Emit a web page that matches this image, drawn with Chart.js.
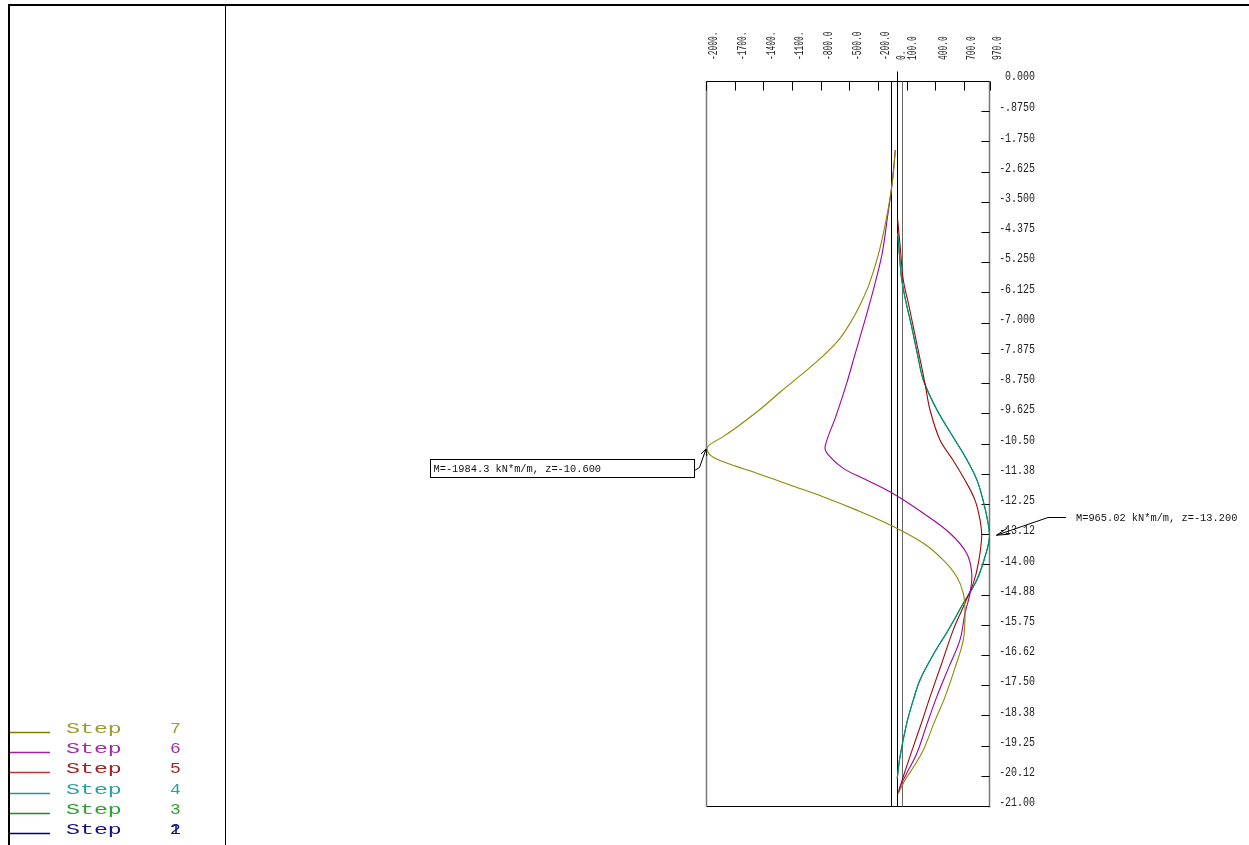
<!DOCTYPE html>
<html>
<head>
<meta charset="utf-8">
<script src="https://cdn.jsdelivr.net/npm/chart.js@4.4.1/dist/chart.umd.min.js"></script>
<style>
  html, body { margin: 0; padding: 0; background: #ffffff; }
  canvas { display: block; }
</style>
</head>
<body>
<canvas id="c" width="1249" height="845"></canvas>
<script>
// ---------- data (bending moment M [kN*m/m] versus depth z [m]) ----------
const step7Z = [-2.00, -2.50, -3.00, -3.50, -4.00, -4.50, -5.00, -5.50, -6.00, -6.50, -7.00, -7.50, -8.00, -8.50, -9.00, -9.50, -10.00, -10.30, -10.60, -10.83, -11.03, -11.36, -11.70, -12.04, -12.43, -12.86, -13.39, -13.88, -14.36, -14.84, -15.41, -16.19, -17.00, -17.84, -18.60, -19.38, -19.85, -20.25, -20.63];
const step7M = [-20, -35, -55, -82, -115, -152, -195, -248, -310, -392, -490, -612, -790, -1000, -1220, -1430, -1665, -1820, -1984.3, -1958, -1819, -1470, -1122, -776, -424, -76, 273, 482, 622, 691, 709, 691, 604, 500, 384, 273, 175, 81, 11];

const step6Z = [-2.00, -3.00, -4.00, -5.00, -6.00, -7.00, -8.00, -8.76, -9.70, -10.60, -10.83, -11.22, -11.55, -11.90, -12.52, -13.10, -13.68, -14.26, -14.84, -15.41, -16.19, -17.00, -17.84, -18.65, -19.48, -20.10, -20.44, -20.63];
const step6M = [-20, -55, -105, -158, -245, -345, -450, -529, -640, -755, -721, -564, -327, -76, 273, 552, 726, 779, 761, 709, 656, 536, 413, 308, 204, 90, 29, 11];

const step5Z = [-4.03, -4.90, -5.76, -6.45, -7.12, -7.95, -8.76, -9.53, -10.40, -10.98, -11.56, -12.14, -12.72, -13.20, -13.97, -14.55, -15.23, -15.90, -16.90, -17.84, -18.55, -19.28, -20.15, -20.63];
const step5M = [5, 34, 63, 117, 168, 230, 290, 343, 447, 583, 708, 813, 866, 883, 848, 795, 691, 586, 461, 343, 259, 168, 63, 11];

const step4Z = [-4.41, -5.10, -5.76, -6.45, -7.12, -7.90, -8.66, -9.53, -10.40, -10.98, -11.56, -12.14, -12.72, -13.20, -13.78, -14.46, -15.13, -15.90, -16.60, -17.35, -18.00, -18.61, -19.57, -20.20];
const step4M = [5, 25, 47, 95, 151, 210, 273, 416, 604, 730, 834, 897, 944, 965.02, 918, 831, 691, 534, 380, 238, 160, 99, 29, 0];

// Step 3 coincides with Step 4 in the picture; Steps 1-2 show no visible curve
const step3Z = step4Z.slice();
const step3M = step4M.slice();

const legendSteps = ['7', '6', '5', '4', '3', '2'];

const xTickValues = [-2000, -1700, -1400, -1100, -800, -500, -200, 0, 100, 400, 700, 970];
const xTickLabels = ['-2000.', '-1700.', '-1400.', '-1100.', '-800.0', '-500.0', '-200.0', '0.', '100.0', '400.0', '700.0', '970.0'];
const yTickValues = [0, -0.875, -1.75, -2.625, -3.5, -4.375, -5.25, -6.125, -7, -7.875, -8.75, -9.625, -10.5, -11.375, -12.25, -13.125, -14, -14.875, -15.75, -16.625, -17.5, -18.375, -19.25, -20.125, -21];
const yTickLabels = ['0.000', '-.8750', '-1.750', '-2.625', '-3.500', '-4.375', '-5.250', '-6.125', '-7.000', '-7.875', '-8.750', '-9.625', '-10.50', '-11.38', '-12.25', '-13.12', '-14.00', '-14.88', '-15.75', '-16.62', '-17.50', '-18.38', '-19.25', '-20.12', '-21.00'];

const wallFaces = [-62, 52];   // wall faces (M-axis positions of the wall outline)
const minLabel = { M: -1984.3, z: -10.6, text: 'M=-1984.3 kN*m/m, z=-10.600' };
const maxLabel = { M: 965.02, z: -13.2, text: 'M=965.02 kN*m/m, z=-13.200' };

// ---------- styles ----------
const curveColors = { s7: '#8a8a00', s6: '#a000a0', s5: '#a00808', s4: '#008f88', s3: '#008000' };
const legendLineColors = ['#808000', '#a020a0', '#b03838', '#209898', '#208a20', '#000080'];
const legendTextColors = ['#9c9c30', '#a030a0', '#a02424', '#2aa0a0', '#30a030', '#121280'];

function pts(zs, ms) { return zs.map((z, i) => ({ x: ms[i], y: z })); }
function ds(label, zs, ms, color) {
  return { label, data: pts(zs, ms), showLine: true, borderColor: color, backgroundColor: color,
           borderWidth: 1.1, pointRadius: 0, tension: 0.35, fill: false };
}

function textScaled(ctx, str, x, y, sx, align, base, rot) {
  ctx.save();
  ctx.translate(x, y);
  if (rot) ctx.rotate(rot);
  ctx.scale(sx, 1);
  ctx.textAlign = align;
  ctx.textBaseline = base;
  ctx.fillText(str, 0, 0);
  ctx.restore();
}

function arrowHead(ctx, tipX, tipY, fromX, fromY, len, spread) {
  const a = Math.atan2(fromY - tipY, fromX - tipX);
  ctx.beginPath();
  ctx.moveTo(tipX + len * Math.cos(a + spread), tipY + len * Math.sin(a + spread));
  ctx.lineTo(tipX, tipY);
  ctx.lineTo(tipX + len * Math.cos(a - spread), tipY + len * Math.sin(a - spread));
  ctx.stroke();
}

const decor = {
  id: 'decor',
  beforeDatasetsDraw(chart) {
    const ctx = chart.ctx, xs = chart.scales.x, ys = chart.scales.y, a = chart.chartArea;
    ctx.save();
    // outer page frame
    ctx.strokeStyle = '#000';
    ctx.lineWidth = 2;
    ctx.beginPath(); ctx.moveTo(8, 5); ctx.lineTo(1249, 5); ctx.stroke();
    ctx.beginPath(); ctx.moveTo(9, 5); ctx.lineTo(9, 845); ctx.stroke();
    ctx.lineWidth = 1;
    ctx.beginPath(); ctx.moveTo(225.5, 5); ctx.lineTo(225.5, 845); ctx.stroke();

    // plot frame
    const L = Math.round(a.left) + 0.5, R = Math.round(a.right) - 0.5, T = Math.round(a.top) + 0.5, B = Math.round(a.bottom) + 0.5;
    ctx.strokeStyle = '#000'; ctx.lineWidth = 1;
    ctx.beginPath(); ctx.moveTo(L, T); ctx.lineTo(R, T); ctx.stroke();
    ctx.beginPath(); ctx.moveTo(L, B); ctx.lineTo(R, B); ctx.stroke();
    ctx.strokeStyle = '#777'; ctx.lineWidth = 1.5;
    ctx.beginPath(); ctx.moveTo(L, T); ctx.lineTo(L, B); ctx.stroke();
    ctx.beginPath(); ctx.moveTo(R, T); ctx.lineTo(R, B + 1); ctx.stroke();

    // top ticks + labels
    ctx.lineWidth = 1;
    ctx.font = '12px "Liberation Mono", "DejaVu Sans Mono", monospace';
    ctx.fillStyle = '#222';
    xTickValues.forEach((v, i) => {
      const px = Math.round(xs.getPixelForValue(v)) + 0.5;
      ctx.strokeStyle = '#000';
      if (v === 0) {
        ctx.beginPath(); ctx.moveTo(px, T - 10); ctx.lineTo(px, B); ctx.stroke();
      } else {
        ctx.beginPath(); ctx.moveTo(px, T); ctx.lineTo(px, T + 9); ctx.stroke();
      }
      const off = v === 0 ? 5 : (v === 100 ? 6 : 8);
      textScaled(ctx, xTickLabels[i], xs.getPixelForValue(v) + off, 60, 0.66, 'left', 'middle', -Math.PI / 2);
    });

    // wall outline
    wallFaces.forEach((w, i) => {
      const px = Math.round(xs.getPixelForValue(w)) + 0.5;
      ctx.strokeStyle = i === 0 ? '#000' : '#666';
      ctx.beginPath(); ctx.moveTo(px, T); ctx.lineTo(px, B); ctx.stroke();
    });

    // right ticks + labels
    yTickValues.forEach((v, i) => {
      const py = Math.round(ys.getPixelForValue(v)) + 0.5;
      ctx.strokeStyle = '#000';
      ctx.beginPath(); ctx.moveTo(R - 8, py); ctx.lineTo(R, py); ctx.stroke();
      textScaled(ctx, yTickLabels[i], 1035, ys.getPixelForValue(v) - (i === 0 ? 4 : 3), 0.83, 'right', 'middle', 0);
    });

    // legend
    legendSteps.forEach((s, i) => {
      const y = Math.round(732 + i * 20.2) + 0.5;
      ctx.strokeStyle = legendLineColors[i]; ctx.lineWidth = 1.3;
      ctx.beginPath(); ctx.moveTo(10, y); ctx.lineTo(50, y); ctx.stroke();
      ctx.fillStyle = legendTextColors[i];
      ctx.font = '15px "Liberation Mono", "DejaVu Sans Mono", monospace';
      textScaled(ctx, 'Step', 66, y + 0.5, 1.55, 'left', 'alphabetic', 0);
      textScaled(ctx, s, 170, y + 0.5, 1.2, 'left', 'alphabetic', 0);
      if (s === '2') textScaled(ctx, '1', 170, y + 0.5, 1.2, 'left', 'alphabetic', 0);
    });
    ctx.restore();
  },
  afterDatasetsDraw(chart) {
    const ctx = chart.ctx, xs = chart.scales.x, ys = chart.scales.y;
    ctx.save();
    ctx.strokeStyle = '#000'; ctx.fillStyle = '#111'; ctx.lineWidth = 1;
    ctx.font = '11px "Liberation Mono", "DejaVu Sans Mono", monospace';

    // minimum annotation (boxed, to the left)
    const mx = xs.getPixelForValue(minLabel.M), my = ys.getPixelForValue(minLabel.z);
    const bx = 430.5, by = 459.5, bw = 264, bh = 18;
    ctx.strokeRect(bx, by, bw, bh);
    textScaled(ctx, minLabel.text, bx + 3, by + bh / 2 + 0.5, 0.94, 'left', 'middle', 0);
    const tipX = mx - 1.5, tipY = my + 2;
    ctx.beginPath(); ctx.moveTo(bx + bw, by + 11); ctx.lineTo(bx + bw + 5, by + 8); ctx.lineTo(tipX, tipY); ctx.stroke();
    arrowHead(ctx, tipX, tipY, bx + bw + 5, by + 8, 7, 0.45);

    // maximum annotation (to the right)
    const nx = xs.getPixelForValue(maxLabel.M), ny = ys.getPixelForValue(maxLabel.z);
    const t2x = nx + 7, t2y = ny - 1.5;
    ctx.beginPath(); ctx.moveTo(1066, 517.5); ctx.lineTo(1048, 517.5); ctx.lineTo(t2x, t2y); ctx.stroke();
    arrowHead(ctx, t2x, t2y, 1048, 517.5, 13, 0.25);
    textScaled(ctx, maxLabel.text, 1076, 518, 0.94, 'left', 'middle', 0);
    ctx.restore();
  }
};

new Chart(document.getElementById('c').getContext('2d'), {
  type: 'scatter',
  data: {
    datasets: [
      ds('Step 7', step7Z, step7M, curveColors.s7),
      ds('Step 6', step6Z, step6M, curveColors.s6),
      ds('Step 5', step5Z, step5M, curveColors.s5),
      ds('Step 4', step4Z, step4M, curveColors.s4),
      ds('Step 3', step3Z, step3M, curveColors.s3)
    ]
  },
  options: {
    responsive: false,
    animation: false,
    layout: { padding: { left: 706, right: 259, top: 81, bottom: 39 } },
    scales: {
      x: { type: 'linear', min: -2000, max: 970, display: false },
      y: { type: 'linear', min: -21, max: 0, display: false }
    },
    plugins: { legend: { display: false }, tooltip: { enabled: false } }
  },
  plugins: [decor]
});
</script>
</body>
</html>
